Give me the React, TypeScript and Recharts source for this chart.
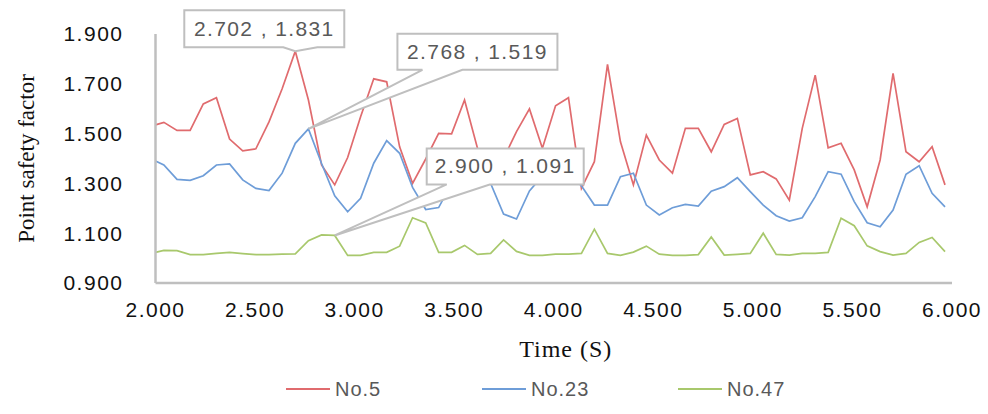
import React from "react";
import { LineChart, Line, XAxis, YAxis, Legend, ReferenceDot } from "recharts";

// time (s) of each sample
const TIME = [
  2.0, 2.042, 2.108, 2.174, 2.24, 2.306, 2.372, 2.438, 2.504, 2.57, 2.636, 2.702, 2.768, 2.834, 2.9,
  2.965, 3.03, 3.096, 3.161, 3.226, 3.291, 3.357, 3.422, 3.487, 3.552, 3.617, 3.683, 3.748, 3.813,
  3.878, 3.943, 4.009, 4.074, 4.139, 4.204, 4.27, 4.335, 4.4, 4.465, 4.53, 4.596, 4.661, 4.726,
  4.791, 4.856, 4.922, 4.987, 5.052, 5.117, 5.183, 5.248, 5.313, 5.378, 5.443, 5.509, 5.574, 5.639,
  5.704, 5.769, 5.835, 5.9, 5.965,
];

const NO5 = [
  1.535, 1.545, 1.513, 1.513, 1.619, 1.644, 1.478, 1.431, 1.439, 1.547, 1.68, 1.831, 1.635, 1.374, 1.294,
  1.404, 1.568, 1.72, 1.708, 1.447, 1.3, 1.398, 1.501, 1.499, 1.635, 1.441, 1.33, 1.4, 1.508,
  1.599, 1.441, 1.612, 1.644, 1.28, 1.387, 1.778, 1.467, 1.294, 1.494, 1.394, 1.341, 1.521, 1.521,
  1.427, 1.537, 1.561, 1.334, 1.347, 1.318, 1.233, 1.521, 1.735, 1.443, 1.461, 1.354, 1.206, 1.394,
  1.742, 1.427, 1.387, 1.447, 1.294,
];

const NO23 = [
  1.39, 1.374, 1.316, 1.312, 1.331, 1.374, 1.378, 1.314, 1.28, 1.271, 1.341, 1.461, 1.519, 1.38, 1.25,
  1.186, 1.24, 1.381, 1.472, 1.421, 1.284, 1.195, 1.203, 1.3, 1.36, 1.36, 1.3, 1.177, 1.157,
  1.27, 1.33, 1.37, 1.34, 1.29, 1.213, 1.213, 1.327, 1.341, 1.213, 1.173, 1.202, 1.216, 1.209,
  1.269, 1.287, 1.323, 1.267, 1.213, 1.17, 1.149, 1.162, 1.247, 1.347, 1.337, 1.227, 1.142, 1.126,
  1.193, 1.337, 1.371, 1.26, 1.206,
];

const NO47 = [
  1.023, 1.031, 1.03, 1.014, 1.014, 1.019, 1.023, 1.018, 1.014, 1.014, 1.016, 1.017, 1.07, 1.093, 1.091,
  1.011, 1.011, 1.023, 1.023, 1.048, 1.162, 1.141, 1.023, 1.023, 1.051, 1.015, 1.019, 1.073, 1.027,
  1.011, 1.011, 1.016, 1.016, 1.019, 1.116, 1.019, 1.011, 1.024, 1.048, 1.016, 1.011, 1.011, 1.014,
  1.085, 1.012, 1.015, 1.019, 1.1, 1.015, 1.012, 1.019, 1.019, 1.023, 1.16, 1.13, 1.049, 1.026,
  1.012, 1.019, 1.063, 1.083, 1.026,
];

const X_TICKS = [2, 2.5, 3, 3.5, 4, 4.5, 5, 5.5, 6];
const Y_TICKS = [0.9, 1.1, 1.3, 1.5, 1.7, 1.9];

const SERIES = [
  { key: "No.5", values: NO5, color: "#E06B6E" },
  { key: "No.23", values: NO23, color: "#6E9DD8" },
  { key: "No.47", values: NO47, color: "#A8C86C" },
];

// annotated points (time, value)
const CALLOUT_T = [2.702, 2.768, 2.9];
const CALLOUT_V = [1.831, 1.519, 1.091];

// box placement relative to the point, in px: [boxX, boxY, boxW, boxH, wedgeL, wedgeR]
const CALLOUT_BOX = [
  [-111, -41, 160, 37, -12, 22],
  [89, -95, 160, 36, 114, 154],
  [92, -87, 157, 36, 112, 155],
];

const data = TIME.map((t, i) => {
  const row: Record<string, number> = { t };
  SERIES.forEach(s => { row[s.key] = s.values[i]; });
  return row;
});

const SANS = "'Liberation Sans', Arial, sans-serif";
const SERIF = "'Liberation Serif', 'Times New Roman', serif";
const GRID = "#BFBFBF";

function Callout(props: any) {
  const { cx, cy, text, geo } = props;
  if (cx == null || cy == null) return null;
  const [bx, by, bw, bh, wl, wr] = geo;
  const x0 = cx + bx, y0 = cy + by, x1 = x0 + bw, y1 = y0 + bh;
  const d = `M${x0},${y0} L${x1},${y0} L${x1},${y1} L${cx + wr},${y1} L${cx},${cy} L${cx + wl},${y1} L${x0},${y1} Z`;
  return (
    <g>
      <path d={d} fill="#fff" stroke={GRID} strokeWidth={2} strokeLinejoin="miter" />
      <text x={x0 + bw / 2} y={y0 + bh / 2 + 7} textAnchor="middle" fontFamily={SANS} fontSize={21}
        letterSpacing={1.4} fill="#595959">{text}</text>
    </g>
  );
}

const renderLegend = () => (
  <div style={{ display: "flex", alignItems: "center", height: 40, paddingLeft: 286 }}>
    {SERIES.map(s => (
      <div key={s.key} style={{ width: 196, display: "flex", alignItems: "center" }}>
        <span style={{ display: "inline-block", width: 44, height: 2, background: s.color, marginRight: 5 }} />
        <span style={{ fontFamily: SANS, fontSize: 20, color: "#595959", letterSpacing: 1 }}>{s.key}</span>
      </div>
    ))}
  </div>
);

export default function App() {
  return (
    <div style={{ width: 988, height: 414, background: "#fff" }}>
      <style>{"body{margin:0}"}</style>
      <LineChart width={988} height={414} data={data} margin={{ top: 34, right: 36, bottom: 11, left: 0 }}>
        <XAxis
          dataKey="t" type="number" domain={[2, 6]} ticks={X_TICKS}
          tickFormatter={(v: number) => v.toFixed(3)}
          tick={{ fontFamily: SANS, fontSize: 21, fill: "#111", letterSpacing: 1.5 }}
          axisLine={{ stroke: GRID, strokeWidth: 2.5 }} tickLine={false} tickSize={0} tickMargin={19}
          height={80}
          label={{
            content: ({ viewBox }: any) => (
              <text x={viewBox.x + viewBox.width / 2 + 12} y={viewBox.y + 74} textAnchor="middle"
                fontFamily={SERIF} fontSize={24} letterSpacing={1} fill="#111">Time (S)</text>
            ),
          }}
        />
        <YAxis
          type="number" domain={[0.9, 1.9]} ticks={Y_TICKS} width={155.5}
          tickFormatter={(v: number) => v.toFixed(3)}
          tick={{ fontFamily: SANS, fontSize: 21, fill: "#111", letterSpacing: 1.5 }}
          axisLine={{ stroke: GRID, strokeWidth: 2.5 }} tickLine={false} tickSize={0} tickMargin={32}
          label={{
            content: ({ viewBox }: any) => {
              const cy = viewBox.y + viewBox.height / 2;
              return (
                <text x={34} y={cy} transform={`rotate(-90 34 ${cy})`} textAnchor="middle"
                  fontFamily={SERIF} fontSize={23} fill="#111">Point safety factor</text>
              );
            },
          }}
        />
        <Legend verticalAlign="bottom" height={40} content={renderLegend}
          wrapperStyle={{ left: 0, width: 988, bottom: 5 }} />
        {SERIES.map(s => (
          <Line key={s.key} dataKey={s.key} type="linear" stroke={s.color} strokeWidth={1.7}
            dot={false} activeDot={false} isAnimationActive={false} />
        ))}
        {CALLOUT_T.map((t, i) => (
          <ReferenceDot key={t} x={t} y={CALLOUT_V[i]} r={0} ifOverflow="visible"
            shape={(p: any) => (
              <Callout cx={p.cx} cy={p.cy} geo={CALLOUT_BOX[i]}
                text={`${t.toFixed(3)} , ${CALLOUT_V[i].toFixed(3)}`} />
            )} />
        ))}
      </LineChart>
    </div>
  );
}
